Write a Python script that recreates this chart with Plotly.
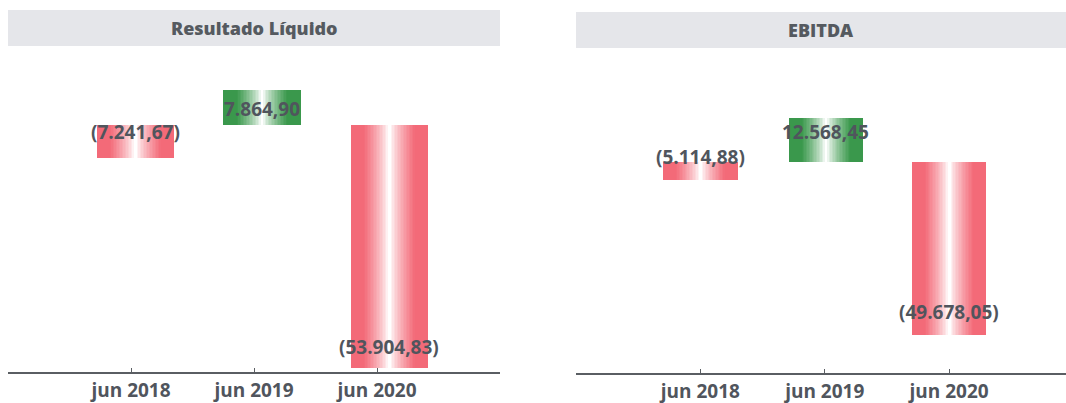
import plotly.graph_objects as go

# ---- data ----
categories = ["jun 2018", "jun 2019", "jun 2020"]
resultado_liquido = [-7241.67, 7864.90, -53904.83]
ebitda = [-5114.88, 12568.45, -49678.05]
panel_titles = ["Resultado Líquido", "EBITDA"]

# ---- style ----
RED = (243, 106, 120)
GREEN = (58, 152, 76)
WHITE = (255, 255, 255)
N_LAYERS = 26
TEXT_COLOR = "#50555d"
FONT = "Open Sans"
label_frac_left = [0.2, 0.45, 0.915]
label_frac_right = [-0.28, 0.68, 0.87]
bar_shift_left = [0.035, 0.065, 0.1]
bar_shift_right = [0.0, 0.01, 0.0]


def mix(c, t):
    r = tuple(round(WHITE[i] + (c[i] - WHITE[i]) * t) for i in range(3))
    return f"rgb({r[0]},{r[1]},{r[2]})"


def prof(t):
    v = (t - 0.03) / 0.62
    v = max(0.0, min(1.0, v))
    return v ** 0.75


def fmt(v):
    s = f"{abs(v):,.2f}".replace(",", "X").replace(".", ",").replace("X", ".")
    return f"({s})" if v < 0 else s


fig = go.Figure()


def add_panel(values, width, xa, ya, fracs, shifts):
    for k in range(N_LAYERS):
        t_band = 1 - (k + 0.5) / N_LAYERS
        w = width * (1 - k / N_LAYERS)
        colors = [mix(GREEN if v >= 0 else RED, prof(t_band)) for v in values]
        fig.add_trace(go.Bar(
            x=categories, y=values, base=0,
            width=w, offset=[s - w / 2 for s in shifts],
            marker=dict(color=colors, line=dict(width=0)),
            xaxis=xa, yaxis=ya, showlegend=False, hoverinfo="skip",
        ))
    for i, (c, v, f) in enumerate(zip(categories, values, fracs)):
        fig.add_annotation(
            x=i + shifts[i], y=v * f, text=fmt(v), showarrow=False,
            xref=xa, yref=ya, xanchor="center", yanchor="middle",
            font=dict(family=FONT, size=19, color=TEXT_COLOR, weight="bold"),
        )


add_panel(resultado_liquido, 0.63, "x", "y", label_frac_left, bar_shift_left)
add_panel(ebitda, 0.60, "x2", "y2", label_frac_right, bar_shift_right)

W, H = 1066, 403
axis_common = dict(
    type="category", showgrid=False, zeroline=False,
    showline=True, linecolor="#5a5e63", linewidth=1.5,
    ticks="inside", ticklen=4, tickcolor="#5a5e63",
    tickfont=dict(family=FONT, size=19, color=TEXT_COLOR, weight="bold"),
)
yaxis_common = dict(visible=False, showgrid=False, zeroline=False)

fig.update_layout(
    width=W, height=H,
    margin=dict(l=0, r=0, t=0, b=0),
    paper_bgcolor="white", plot_bgcolor="white",
    barmode="overlay", bargap=0,
    xaxis=dict(domain=[8 / W, 500 / W], range=[-1, 3], anchor="y", **axis_common),
    yaxis=dict(domain=[31 / H, 343 / H], range=[-54890, 14440], anchor="x", **yaxis_common),
    xaxis2=dict(domain=[576 / W, 1.0], range=[-1, 2.94], anchor="y2", **axis_common),
    yaxis2=dict(domain=[30 / H, 343 / H], range=[-60600, 29300], anchor="x2", **yaxis_common),
)

# title boxes
boxes = [(8, 500, 10, 46), (576, 1066, 12, 48)]
for (x0, x1, y0, y1), title in zip(boxes, panel_titles):
    fig.add_shape(type="rect", xref="paper", yref="paper",
                  x0=x0 / W, x1=x1 / W, y0=1 - y1 / H, y1=1 - y0 / H,
                  fillcolor="#e5e6ea", line=dict(width=0), layer="below")
    fig.add_annotation(xref="paper", yref="paper",
                       x=(x0 + x1) / 2 / W, y=1 - (y0 + y1) / 2 / H,
                       xanchor="center", yanchor="middle",
                       text=title, showarrow=False,
                       font=dict(family=FONT, size=18, color="#555a60", weight=800))

fig.write_html("out.html")
